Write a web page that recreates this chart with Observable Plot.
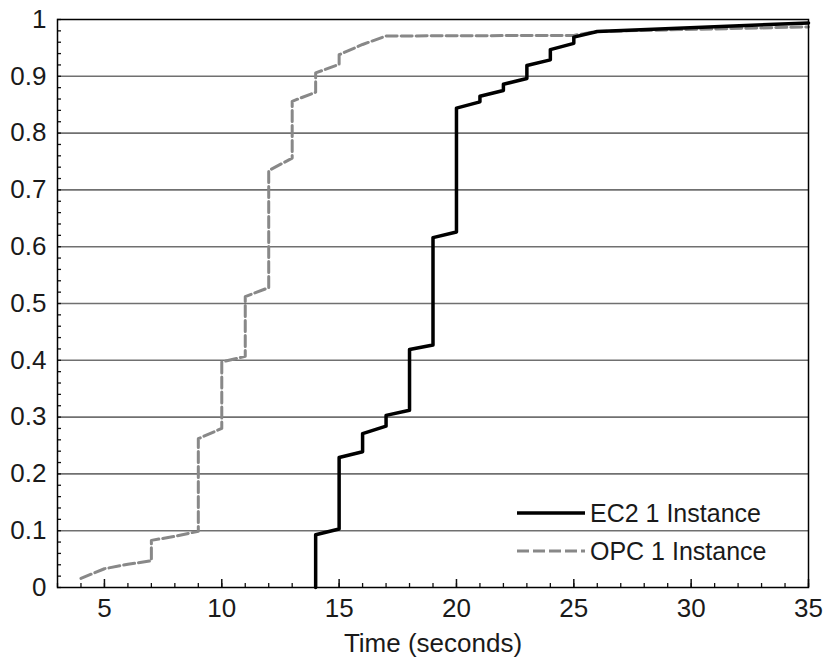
<!DOCTYPE html>
<html><head><meta charset="utf-8">
<script src="https://cdn.jsdelivr.net/npm/d3@7"></script>
<script src="https://cdn.jsdelivr.net/npm/@observablehq/plot@0.6"></script>
<style>
body{margin:0;background:#fff;}
#wrap{position:relative;width:827px;height:670px;}
#legend{position:absolute;left:0;top:0;pointer-events:none;}
</style></head><body><div id="wrap"></div>
<script>
// EC2 1 Instance (black, solid) — empirical CDF points
const ec2X = [14,14,15,15,16,16,17,17,18,18,19,19,20,20,21,21,22,22,23,23,24,24,25,25,26,35];
const ec2Y = [0,0.093,0.103,0.229,0.239,0.271,0.284,0.303,0.312,0.419,0.427,0.616,0.626,0.844,0.855,0.865,0.875,0.886,0.896,0.919,0.929,0.947,0.958,0.969,0.979,0.994];
// OPC 1 Instance (grey, dashed)
const opcX = [4,5,6,7,7,8,9,9,10,10,11,11,12,12,13,13,14,14,15,15,16,17,25,26,35];
const opcY = [0.016,0.033,0.041,0.047,0.083,0.090,0.099,0.262,0.280,0.397,0.407,0.512,0.528,0.734,0.756,0.856,0.872,0.906,0.921,0.938,0.956,0.971,0.972,0.979,0.987];

const seriesNames = ["EC2 1 Instance", "OPC 1 Instance"];
const xDomain = [3, 35];
const yDomain = [0, 1];
const xTicks = [5,10,15,20,25,30,35];
const xTickLabels = ["5","10","15","20","25","30","35"];
const yTicks = [0,0.1,0.2,0.3,0.4,0.5,0.6,0.7,0.8,0.9,1];
const yTickLabels = ["0","0.1","0.2","0.3","0.4","0.5","0.6","0.7","0.8","0.9","1"];
const gridVals = [0.1,0.2,0.3,0.4,0.5,0.6,0.7,0.8,0.9];
const xMinor = d3.range(3, 36, 1);
const yMinor = d3.range(0, 51, 1).map(k => k / 50);
const xLabel = "Time (seconds)";

const ec2 = ec2X.map((x, i) => ({x, y: ec2Y[i]}));
const opc = opcX.map((x, i) => ({x, y: opcY[i]}));

const W = 827, H = 670, mL = 57, mR = 19, mT = 19, mB = 83;
// tick lengths in pixels converted to data units of each scale
const pxY = (yDomain[1] - yDomain[0]) / (H - mT - mB);
const pxX = (xDomain[1] - xDomain[0]) / (W - mL - mR);

const font = "'Liberation Sans', Arial, Helvetica, sans-serif";

const chart = Plot.plot({
  width: W, height: H,
  marginLeft: mL, marginRight: mR, marginTop: mT, marginBottom: mB,
  style: {fontFamily: font, fontSize: "26px", color: "#1a1a1a", background: "white"},
  x: {domain: xDomain},
  y: {domain: yDomain},
  marks: [
    Plot.gridY(gridVals, {stroke: "#707070", strokeOpacity: 1, strokeWidth: 1.6}),
    Plot.ruleX(xMinor, {x: d => d, y1: yDomain[0], y2: yDomain[0] + 4 * pxY, stroke: "#111", strokeWidth: 1.3}),
    Plot.ruleX(xTicks, {x: d => d, y1: yDomain[0], y2: yDomain[0] + 8 * pxY, stroke: "#111", strokeWidth: 1.5}),
    Plot.ruleY(yMinor, {y: d => d, x1: xDomain[0], x2: xDomain[0] + 4 * pxX, stroke: "#111", strokeWidth: 1.3}),
    Plot.axisX(xTicks, {tickSize: 0, tickPadding: 11, tickFormat: d => xTickLabels[xTicks.indexOf(d)], label: null, fontSize: 26}),
    Plot.axisY(yTicks, {tickSize: 0, tickPadding: 11, tickFormat: d => yTickLabels[yTicks.indexOf(d)], label: null, fontSize: 26}),
    Plot.line(opc, {x: "x", y: "y", stroke: "#888", strokeWidth: 3, strokeDasharray: "11,4"}),
    Plot.line(ec2, {x: "x", y: "y", stroke: "#000", strokeWidth: 3.5}),
    Plot.frame({stroke: "#000", strokeWidth: 1.5}),
    Plot.text([xLabel], {frameAnchor: "bottom", dy: 64, text: d => d, fontSize: 26, fill: "#1a1a1a"})
  ]
});
document.getElementById("wrap").appendChild(chart);

// legend overlay (inside plot area, bottom right)
const lg = d3.select("#wrap").append("svg").attr("id", "legend").attr("width", W).attr("height", H);
const legStyles = [{stroke: "#000", w: 3.5, dash: null}, {stroke: "#888", w: 3, dash: "12,4"}];
seriesNames.forEach((name, i) => {
  const y = 513 + i * 38;
  lg.append("line").attr("x1", 517).attr("x2", 585).attr("y1", y).attr("y2", y)
    .attr("stroke", legStyles[i].stroke).attr("stroke-width", legStyles[i].w)
    .attr("stroke-dasharray", legStyles[i].dash);
  lg.append("text").attr("x", 590).attr("y", y).attr("dy", "0.35em")
    .attr("font-family", font).attr("font-size", 25).attr("fill", "#1a1a1a").text(name);
});
</script></body></html>
